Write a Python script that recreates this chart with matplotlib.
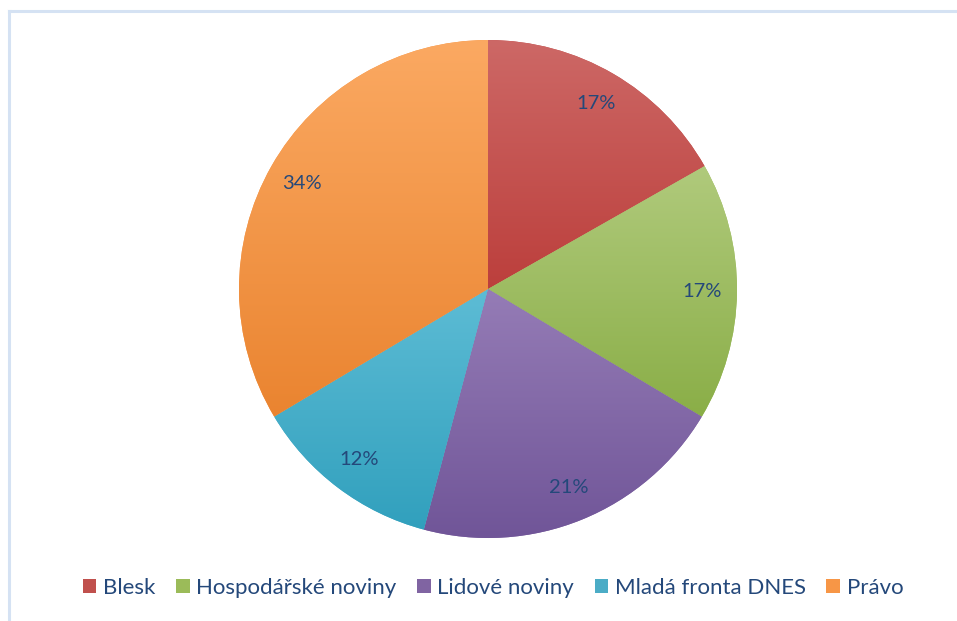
import matplotlib
matplotlib.use("Agg")
import matplotlib.pyplot as plt
import numpy as np
from matplotlib.colors import LinearSegmentedColormap
from matplotlib.patches import Rectangle
from matplotlib.lines import Line2D

categories = ["Blesk", "Hospodářské noviny", "Lidové noviny", "Mladá fronta DNES", "Právo"]
values = [16.8, 16.8, 20.6, 12.3, 33.6]
labels = ["17%", "17%", "21%", "12%", "34%"]
top_colors = ["#CD6866", "#B0CA7C", "#957CB6", "#5DBCD5", "#FBA962"]
bottom_colors = ["#BC3F3C", "#8AAE47", "#705598", "#31A0BD", "#EA8430"]
base_colors = ["#C0504D", "#9BBB59", "#8064A2", "#4BACC6", "#F79646"]

text_color = "#24487A"
plt.rcParams['font.family'] = ['Lato', 'DejaVu Sans']

fig = plt.figure(figsize=(9.57, 6.21), dpi=100)
ax = fig.add_axes([0, 0, 1, 1])

cx, cy, r = 488, 621 - 289, 249
wedges, texts, autotexts = ax.pie(values, startangle=90, counterclock=False,
                                  center=(cx, cy), radius=r, colors=base_colors,
                                  autopct='%1.0f%%', pctdistance=0.86,
                                  wedgeprops=dict(linewidth=0), frame=True)
ax.set_xlim(0, 957)
ax.set_ylim(0, 621)
ax.set_aspect('equal')
ax.axis('off')

for w, t, lab, tc, bc in zip(wedges, autotexts, labels, top_colors, bottom_colors):
    t.set_text(lab)
    t.set_color(text_color)
    t.set_fontsize(14.5)
    ext = w.get_path().get_extents()
    cmap = LinearSegmentedColormap.from_list("g", [bc, tc])
    grad = np.linspace(0, 1, 256).reshape(-1, 1)
    im = ax.imshow(grad, cmap=cmap, origin='lower', aspect='auto',
                   extent=(ext.x0, ext.x1, ext.y0, ext.y1), zorder=w.get_zorder() + 0.1,
                   interpolation='bilinear')
    im.set_clip_path(w)
    t.set_zorder(5)

ax.set_xlim(0, 957)
ax.set_ylim(0, 621)

# chart border (light blue)
fig.add_artist(Line2D([8.5 / 957, 8.5 / 957], [0, 1 - 10.5 / 621], color="#D5E2F3", lw=2.2,
                      transform=fig.transFigure))
fig.add_artist(Line2D([8.5 / 957, 1], [1 - 10.5 / 621, 1 - 10.5 / 621], color="#D5E2F3", lw=2.2,
                      transform=fig.transFigure))

handles = [Rectangle((0, 0), 1, 1, facecolor=c, edgecolor='none') for c in base_colors]
leg = fig.legend(handles, categories, loc='center', bbox_to_anchor=(493 / 957, 1 - 588 / 621),
                 ncol=5, frameon=False, fontsize=16, handlelength=0.62, handleheight=0.62,
                 handletextpad=0.3, columnspacing=0.92, labelcolor=text_color)

fig.savefig("out.png", dpi=100)
